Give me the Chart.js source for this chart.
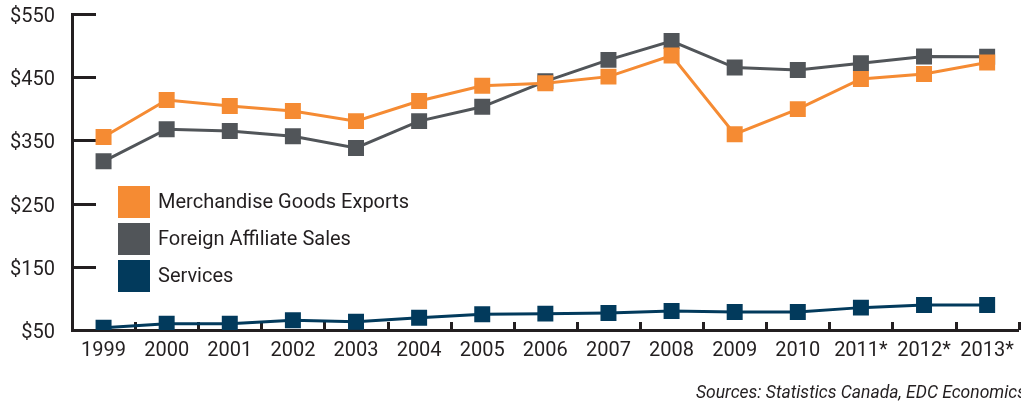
<!DOCTYPE html>
<html>
<head>
<meta charset="utf-8">
<title>Canadian exports and foreign affiliate sales</title>
<script src="https://cdn.jsdelivr.net/npm/chart.js@4"></script>
<style>
  html, body { margin: 0; padding: 0; background: #fff; overflow: hidden; }
  #wrap { position: relative; width: 1030px; height: 404px; }
</style>
</head>
<body>
<div id="wrap"><canvas id="chart"></canvas></div>
<script>
// Values in $ billions
const years = ['1999', '2000', '2001', '2002', '2003', '2004', '2005', '2006',
               '2007', '2008', '2009', '2010', '2011*', '2012*', '2013*'];
const merchandiseExports = [355.5, 413.8, 404.3, 396.4, 380.5, 412.3, 436.6, 440.4,
                            450.9, 484.2, 359.8, 399.5, 447.2, 455.1, 473.1];
const affiliateSales = [316.9, 367.8, 365.0, 356.6, 338.0, 380.5, 403.2, 443.5,
                        477.4, 507.1, 465.2, 461.5, 472.2, 482.6, 482.2];
const services = [53.7, 60.0, 60.0, 65.4, 63.2, 69.5, 75.0, 75.9,
                  77.0, 80.2, 78.6, 78.6, 85.4, 89.7, 89.7];
const yTicks = [50, 150, 250, 350, 450, 550];

const axisColor = '#231f20';
const fontFamily = 'Roboto, "Liberation Sans", sans-serif';

function series(label, data, color) {
    return {
        label: label,
        data: data,
        borderColor: color,
        backgroundColor: color,
        borderWidth: 3,
        pointStyle: 'rect',
        pointRadius: 11.3,
        pointHoverRadius: 11.3,
        pointBorderWidth: 0,
        pointBackgroundColor: color,
        tension: 0
    };
}

// short tick marks pointing into the plot area
const innerTicks = {
    id: 'innerTicks',
    beforeDatasetsDraw(chart) {
        const { ctx, chartArea, scales: { x, y } } = chart;
        ctx.save();
        ctx.strokeStyle = axisColor;
        ctx.lineWidth = 3;
        ctx.beginPath();
        y.ticks.forEach(t => {
            if (t.value === y.min) return;
            const py = Math.round(y.getPixelForValue(t.value)) + 0.5;
            ctx.moveTo(chartArea.left, py);
            ctx.lineTo(chartArea.left + 24, py);
        });
        const step = x.getPixelForValue(1) - x.getPixelForValue(0);
        years.forEach((_, i) => {
            const px = Math.round(x.getPixelForValue(i) + step / 2) + 0.5;
            ctx.moveTo(px, chartArea.bottom);
            ctx.lineTo(px, chartArea.bottom - 8);
        });
        ctx.stroke();
        ctx.restore();
    }
};

// square swatch legend inside the plot
const boxLegend = {
    id: 'boxLegend',
    afterDraw(chart) {
        const ctx = chart.ctx;
        ctx.save();
        ctx.font = '20px ' + fontFamily;
        ctx.textBaseline = 'middle';
        chart.data.datasets.forEach((ds, i) => {
            const top = 186 + i * 37;
            ctx.fillStyle = ds.backgroundColor;
            ctx.fillRect(118, top, 32, 32);
            ctx.fillStyle = axisColor;
            ctx.fillText(ds.label, 158, top + 17);
        });
        ctx.restore();
    }
};

new Chart(document.getElementById('chart'), {
    type: 'line',
    data: {
        labels: years,
        datasets: [
            series('Merchandise Goods Exports', merchandiseExports, '#f58b33'),
            series('Foreign Affiliate Sales', affiliateSales, '#515559'),
            series('Services', services, '#023a5c')
        ]
    },
    options: {
        responsive: true,
        maintainAspectRatio: false,
        animation: false,
        layout: { padding: { top: 14, right: 4, left: 0, bottom: 0 } },
        plugins: {
            legend: { display: false },
            tooltip: { enabled: false },
            title: {
                display: true,
                position: 'bottom',
                align: 'end',
                text: 'Sources: Statistics Canada, EDC Economics',
                color: axisColor,
                font: { family: fontFamily, size: 17.5, style: 'italic', weight: 'normal', lineHeight: 1.2 },
                padding: { top: 20, bottom: 0 }
            }
        },
        scales: {
            x: {
                offset: true,
                afterFit: s => {
                    s.height = 33;
                    s.paddingLeft = 0;
                    s.paddingRight = 0;
                },
                grid: { display: false, drawTicks: false },
                border: { display: true, color: axisColor, width: 3 },
                ticks: {
                    color: axisColor,
                    padding: 9,
                    maxRotation: 0,
                    autoSkip: false,
                    font: { family: fontFamily, size: 20 }
                }
            },
            y: {
                min: 50,
                max: 550,
                afterBuildTicks: s => { s.ticks = yTicks.map(v => ({ value: v })); },
                afterFit: s => {
                    s.width = 72;
                    s.paddingTop = 0;
                    s.paddingBottom = 0;
                },
                grid: { display: false, drawTicks: false },
                border: { display: true, color: axisColor, width: 3 },
                ticks: {
                    color: axisColor,
                    padding: 17,
                    labelOffset: 3,
                    font: { family: fontFamily, size: 20 },
                    callback: v => '$' + v
                }
            }
        }
    },
    plugins: [innerTicks, boxLegend]
});
</script>
</body>
</html>
